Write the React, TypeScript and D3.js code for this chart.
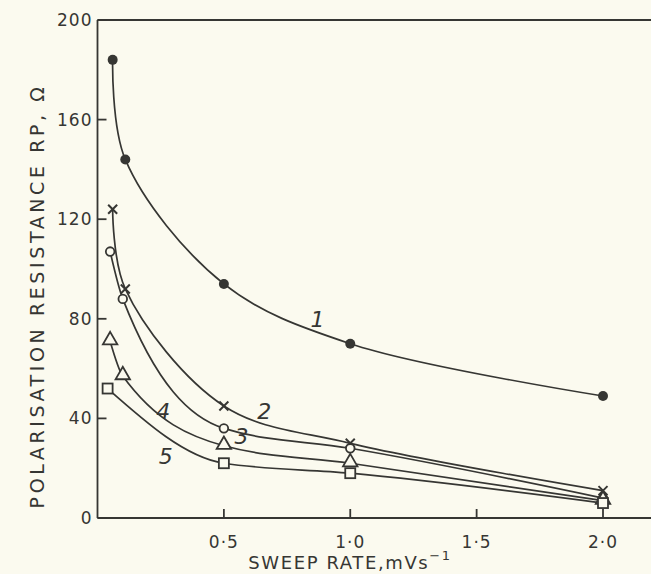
import React from 'react';
import * as d3 from 'd3';

// sweep rate (mV/s) and polarisation resistance (ohm)
const sweep1 = [0.06, 0.11, 0.5, 1.0, 2.0];
const rp1 = [184, 144, 94, 70, 49];
const sweep2 = [0.06, 0.11, 0.5, 1.0, 2.0];
const rp2 = [124, 92, 45, 30, 11];
const sweep3 = [0.05, 0.1, 0.5, 1.0, 2.0];
const rp3 = [107, 88, 36, 28, 8];
const sweep4 = [0.05, 0.1, 0.5, 1.0, 2.0];
const rp4 = [71, 57, 29, 22, 7];
const sweep5 = [0.04, 0.5, 1.0, 2.0];
const rp5 = [52, 22, 18, 6];

const xTicks = [0.5, 1.0, 1.5, 2.0];
const xTickLabels = ['0·5', '1·0', '1·5', '2·0'];
const yTicks = [0, 40, 80, 120, 160, 200];

// curve numbers, placed in data units
const curveLabels = ['1', '2', '3', '4', '5'];
const labelX = [0.87, 0.66, 0.57, 0.26, 0.27];
const labelY = [80, 43, 33, 43, 25];

const W = 651;
const H = 574;
const ink = '#363633';
const paper = '#fbfaef';
const font = '"DejaVu Sans", sans-serif';

const x = d3.scaleLinear().domain([0, 2]).range([97.5, 603]);
const y = d3.scaleLinear().domain([0, 200]).range([518, 20]);

const smooth = d3
  .line<[number, number]>()
  .x((d) => x(d[0]))
  .y((d) => y(d[1]))
  .curve(d3.curveCatmullRom.alpha(0.5));
const mono = d3
  .line<[number, number]>()
  .x((d) => x(d[0]))
  .y((d) => y(d[1]))
  .curve(d3.curveMonotoneX);

const zip = (a: number[], b: number[]) => a.map((v, i) => [v, b[i]] as [number, number]);

const series = [
  { pts: zip(sweep1, rp1), mark: 'dot', gen: smooth },
  { pts: zip(sweep2, rp2), mark: 'cross', gen: smooth },
  { pts: zip(sweep3, rp3), mark: 'circle', gen: mono },
  { pts: zip(sweep4, rp4), mark: 'triangle', gen: mono },
  { pts: zip(sweep5, rp5), mark: 'square', gen: mono },
];

const tri = d3.symbol().type(d3.symbolTriangle).size(90)() as string;

function Marker({ kind, cx, cy }: { kind: string; cx: number; cy: number }) {
  if (kind === 'dot') return <circle cx={cx} cy={cy} r={5} fill={ink} />;
  if (kind === 'cross')
    return (
      <g stroke={ink} strokeWidth={2}>
        <line x1={cx - 4.5} y1={cy - 4.5} x2={cx + 4.5} y2={cy + 4.5} />
        <line x1={cx - 4.5} y1={cy + 4.5} x2={cx + 4.5} y2={cy - 4.5} />
      </g>
    );
  if (kind === 'circle')
    return <circle cx={cx} cy={cy} r={4.3} fill={paper} stroke={ink} strokeWidth={1.8} />;
  if (kind === 'triangle')
    return (
      <path d={tri} transform={`translate(${cx},${cy - 1})`} fill={paper} stroke={ink} strokeWidth={1.8} />
    );
  return <rect x={cx - 5} y={cy - 5} width={10} height={10} fill={paper} stroke={ink} strokeWidth={1.8} />;
}

export default function App() {
  return (
    <svg width={W} height={H} style={{ position: 'absolute', left: 0, top: 0 }}>
      <rect width={W} height={H} fill={paper} />

      {/* frame: left axis, top and bottom lines run off the right edge */}
      <g stroke={ink} strokeWidth={1.8} fill="none">
        <line x1={x(0)} y1={y(200)} x2={x(0)} y2={y(0)} />
        <line x1={x(0)} y1={y(200)} x2={W} y2={y(200)} />
        <line x1={x(0)} y1={y(0)} x2={W} y2={y(0)} />
        {yTicks.map((t) => (
          <line key={t} x1={x(0)} x2={x(0) + 9} y1={y(t)} y2={y(t)} />
        ))}
        {xTicks.map((t) => (
          <line key={t} x1={x(t)} x2={x(t)} y1={y(0)} y2={y(0) - 9} />
        ))}
      </g>

      <g fill={ink} fontFamily={font} fontSize={17} letterSpacing={1}>
        {yTicks.map((t) => (
          <text key={t} x={x(0) - 5} y={y(t) + 6} textAnchor="end">
            {t}
          </text>
        ))}
        {xTicks.map((t, i) => (
          <text key={t} x={x(t)} y={y(0) + 30} textAnchor="middle" fontSize={17}>
            {xTickLabels[i]}
          </text>
        ))}
        <text x={350} y={569} textAnchor="middle" fontSize={18} letterSpacing={1.6}>
          SWEEP RATE,mVs
          <tspan dy={-9} fontSize={13}>
            −1
          </tspan>
        </text>
        <text
          transform="translate(44,296) rotate(-90)"
          textAnchor="middle"
          fontSize={19}
          letterSpacing={3.6}
        >
          POLARISATION RESISTANCE R<tspan>P</tspan>, Ω
        </text>
      </g>

      {series.map((s, i) => (
        <path key={i} d={s.gen(s.pts) as string} fill="none" stroke={ink} strokeWidth={1.7} />
      ))}
      {series.map((s, i) => (
        <g key={i}>
          {s.pts.map((p, j) => (
            <Marker key={j} kind={s.mark} cx={x(p[0])} cy={y(p[1])} />
          ))}
        </g>
      ))}

      <g fill={ink} fontFamily={font} fontSize={22} fontStyle="italic" textAnchor="middle">
        {curveLabels.map((l, i) => (
          <text key={l} x={x(labelX[i])} y={y(labelY[i]) + 8}>
            {l}
          </text>
        ))}
      </g>
    </svg>
  );
}
